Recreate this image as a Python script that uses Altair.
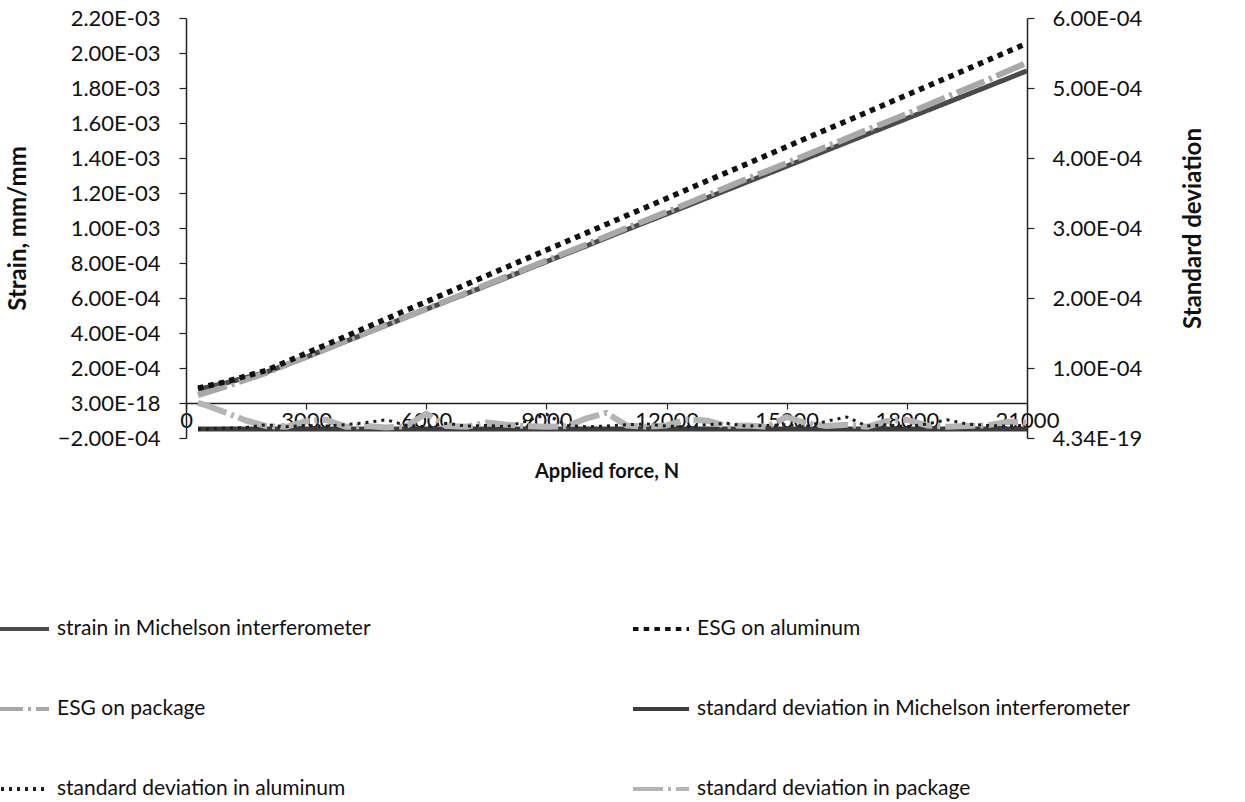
import altair as alt
import pandas as pd

# ---------------- data ----------------
FORCE_STRAIN = [300, 1000, 2000, 3000, 4000, 5000, 6000, 7000, 8000, 9000, 10000,
                11000, 12000, 13000, 14000, 15000, 16000, 17000, 18000, 19000, 20000, 21000]
STRAIN_MICHELSON = [0.78e-4, 1.15e-4, 1.76e-4, 2.62e-4, 3.53e-4, 4.44e-4, 5.36e-4, 6.25e-4,
                    7.16e-4, 8.08e-4, 8.98e-4, 9.90e-4, 1.080e-3, 1.171e-3, 1.262e-3, 1.353e-3,
                    1.444e-3, 1.535e-3, 1.626e-3, 1.716e-3, 1.807e-3, 1.898e-3]
STRAIN_ESG_AL = [0.85e-4, 1.22e-4, 1.86e-4, 2.84e-4, 3.82e-4, 4.81e-4, 5.79e-4, 6.78e-4,
                 7.76e-4, 8.74e-4, 9.72e-4, 1.071e-3, 1.169e-3, 1.268e-3, 1.366e-3, 1.465e-3,
                 1.563e-3, 1.661e-3, 1.760e-3, 1.858e-3, 1.957e-3, 2.055e-3]
STRAIN_ESG_PKG = [0.45e-4, 0.95e-4, 1.72e-4, 2.63e-4, 3.56e-4, 4.47e-4, 5.38e-4, 6.30e-4,
                  7.22e-4, 8.14e-4, 9.06e-4, 1.000e-3, 1.091e-3, 1.185e-3, 1.280e-3, 1.371e-3,
                  1.465e-3, 1.560e-3, 1.652e-3, 1.750e-3, 1.845e-3, 1.945e-3]

FORCE_SD = [300, 500, 1000, 1500, 2000, 2500, 3000, 3500, 4000, 4500, 5000, 5500, 6000,
            6500, 7000, 7500, 8000, 8500, 9000, 9500, 10000, 10500, 11000, 11500, 12000,
            12500, 13000, 13500, 14000, 14500, 15000, 15500, 16000, 16500, 17000, 17500,
            18000, 18500, 19000, 19500, 20000, 20500, 21000]
SD_MICHELSON = [1.30e-5, 1.30e-5, 1.29e-5, 1.28e-5, 1.28e-5, 1.27e-5, 1.28e-5, 1.29e-5,
                1.28e-5, 1.27e-5, 1.27e-5, 1.28e-5, 1.28e-5, 1.27e-5, 1.27e-5, 1.28e-5,
                1.28e-5, 1.27e-5, 1.27e-5, 1.28e-5, 1.28e-5, 1.27e-5, 1.27e-5, 1.28e-5,
                1.28e-5, 1.27e-5, 1.27e-5, 1.28e-5, 1.28e-5, 1.27e-5, 1.27e-5, 1.28e-5,
                1.28e-5, 1.27e-5, 1.27e-5, 1.28e-5, 1.28e-5, 1.27e-5, 1.27e-5, 1.28e-5,
                1.28e-5, 1.27e-5, 1.28e-5]
SD_AL = [1.3e-5, 1.3e-5, 1.4e-5, 1.5e-5, 1.9e-5, 1.6e-5, 1.8e-5, 1.7e-5, 1.9e-5, 2.2e-5,
         2.6e-5, 1.8e-5, 1.6e-5, 2.1e-5, 1.7e-5, 1.8e-5, 1.6e-5, 2.4e-5, 3.4e-5, 1.8e-5,
         1.6e-5, 1.7e-5, 1.9e-5, 2.0e-5, 1.7e-5, 1.6e-5, 1.9e-5, 2.1e-5, 1.7e-5, 1.8e-5,
         1.9e-5, 1.7e-5, 2.4e-5, 3.0e-5, 1.7e-5, 1.9e-5, 1.6e-5, 2.0e-5, 2.6e-5, 2.0e-5,
         1.8e-5, 1.7e-5, 1.8e-5]
SD_PKG = [5.0e-5, 4.7e-5, 3.6e-5, 2.5e-5, 1.7e-5, 1.6e-5, 2.4e-5, 2.6e-5, 1.6e-5, 1.7e-5,
          1.5e-5, 1.7e-5, 3.5e-5, 1.7e-5, 1.6e-5, 2.2e-5, 1.9e-5, 1.7e-5, 1.6e-5, 1.7e-5,
          2.8e-5, 3.6e-5, 1.8e-5, 1.6e-5, 1.8e-5, 2.6e-5, 2.5e-5, 1.7e-5, 1.8e-5, 1.6e-5,
          3.0e-5, 2.1e-5, 1.7e-5, 1.9e-5, 1.6e-5, 2.4e-5, 2.6e-5, 1.8e-5, 1.6e-5, 1.7e-5,
          1.8e-5, 2.3e-5, 2.2e-5]

S_MICH = "strain in Michelson interferometer"
S_AL = "ESG on aluminum"
S_PKG = "ESG on package"
SD_MICH_N = "standard deviation in Michelson interferometer"
SD_AL_N = "standard deviation in aluminum"
SD_PKG_N = "standard deviation in package"

# legend fills column by column: left column first, then right column
SERIES = [S_MICH, S_PKG, SD_AL_N, S_AL, SD_MICH_N, SD_PKG_N]
STYLE = {
    S_MICH: ("#4a4a4a", [1, 0], 5),
    S_PKG: ("#a8a8a8", [30, 5, 3, 5], 6),
    SD_AL_N: ("#1e1e1e", [3, 5], 3),
    S_AL: ("#111111", [5.5, 5.2], 5.5),
    SD_MICH_N: ("#3c3c3c", [1, 0], 5),
    SD_PKG_N: ("#b4b4b4", [30, 5, 3, 5], 6),
}
COLORS = [STYLE[s][0] for s in SERIES]
DASHES = [STYLE[s][1] for s in SERIES]

LEFT_TICKS = [-0.0002, 0.0, 0.0002, 0.0004, 0.0006, 0.0008, 0.001, 0.0012, 0.0014,
              0.0016, 0.0018, 0.002, 0.0022]
RIGHT_TICKS = [0.0, 0.0001, 0.0002, 0.0003, 0.0004, 0.0005, 0.0006]
X_TICKS = [0, 3000, 6000, 9000, 12000, 15000, 18000, 21000]

FONT = "Lato"

# ---------------- frames ----------------
def frame(force, values, name):
    return pd.DataFrame({"force": force, "value": values, "series": name})

legend = alt.Legend(
    title=None, orient="none", legendX=-195, legendY=581, columns=2,
    columnPadding=254, rowPadding=40, symbolType="stroke", symbolSize=3136,
    symbolStrokeWidth=4, labelFont=FONT, labelFontSize=21, labelColor="#111",
    labelLimit=700, labelOffset=6,
)
color = alt.Color("series:N", scale=alt.Scale(domain=SERIES, range=COLORS), legend=legend)
dash = alt.StrokeDash("series:N", scale=alt.Scale(domain=SERIES, range=DASHES), legend=legend)

x_enc = alt.X(
    "force:Q",
    scale=alt.Scale(domain=[0, 21000], nice=False, zero=False),
    axis=alt.Axis(
        values=X_TICKS, format="d", title="Applied force, N", offset=-35,
        labelFlush=False, labelOverlap=False, tickSize=6, labelPadding=1,
        titlePadding=30, titleFontSize=20, grid=False,
    ),
)

left_axis = alt.Axis(
    orient="left", values=LEFT_TICKS, title="Strain, mm/mm", grid=False,
    labelExpr="datum.value == 0 ? '3.00E-18' : replace(format(datum.value, '.2e'), 'e-', 'E-0')",
    tickSize=7, labelPadding=19, titlePadding=27, titleFontSize=24,
)
right_axis = alt.Axis(
    orient="right", values=RIGHT_TICKS, title="Standard deviation", grid=False,
    labelExpr="datum.value == 0 ? '4.34E-19' : replace(format(datum.value, '.2e'), 'e-', 'E-0')",
    tickSize=7, labelPadding=18, titlePadding=64, titleAngle=270, titleFontSize=24,
)

y_left = alt.Y("value:Q", scale=alt.Scale(domain=[-0.0002, 0.0022], nice=False, zero=False),
               axis=left_axis)
y_right = alt.Y("value:Q", scale=alt.Scale(domain=[0, 0.0006], nice=False, zero=False),
                axis=right_axis)

def line_layer(force, values, name, y):
    width = STYLE[name][2]
    return alt.Chart(frame(force, values, name)).mark_line(
        strokeWidth=width, strokeJoin="round"
    ).encode(x=x_enc, y=y, color=color, strokeDash=dash)

# draw order: Michelson, package, aluminum
left = alt.layer(
    line_layer(FORCE_STRAIN, STRAIN_MICHELSON, S_MICH, y_left),
    line_layer(FORCE_STRAIN, STRAIN_ESG_PKG, S_PKG, y_left),
    line_layer(FORCE_STRAIN, STRAIN_ESG_AL, S_AL, y_left),
)
right = alt.layer(
    line_layer(FORCE_SD, SD_MICHELSON, SD_MICH_N, y_right),
    line_layer(FORCE_SD, SD_PKG, SD_PKG_N, y_right),
    line_layer(FORCE_SD, SD_AL, SD_AL_N, y_right),
)

chart = alt.layer(left, right).resolve_scale(y="independent").properties(
    width=841, height=420,
    padding={"left": 186, "top": 18, "right": 218, "bottom": 364},
    autosize=alt.AutoSizeParams(type="none"),
    background="white",
).configure_view(stroke=None).configure_axis(
    labelFont=FONT, labelFontSize=22, labelColor="#111",
    titleFont=FONT, titleFontSize=20, titleFontWeight="bold", titleColor="#111",
    domainColor="#222", domainWidth=1.5, tickColor="#222", tickWidth=1.2,
)

chart.save("out.html", embed_options={"renderer": "svg", "actions": False})
